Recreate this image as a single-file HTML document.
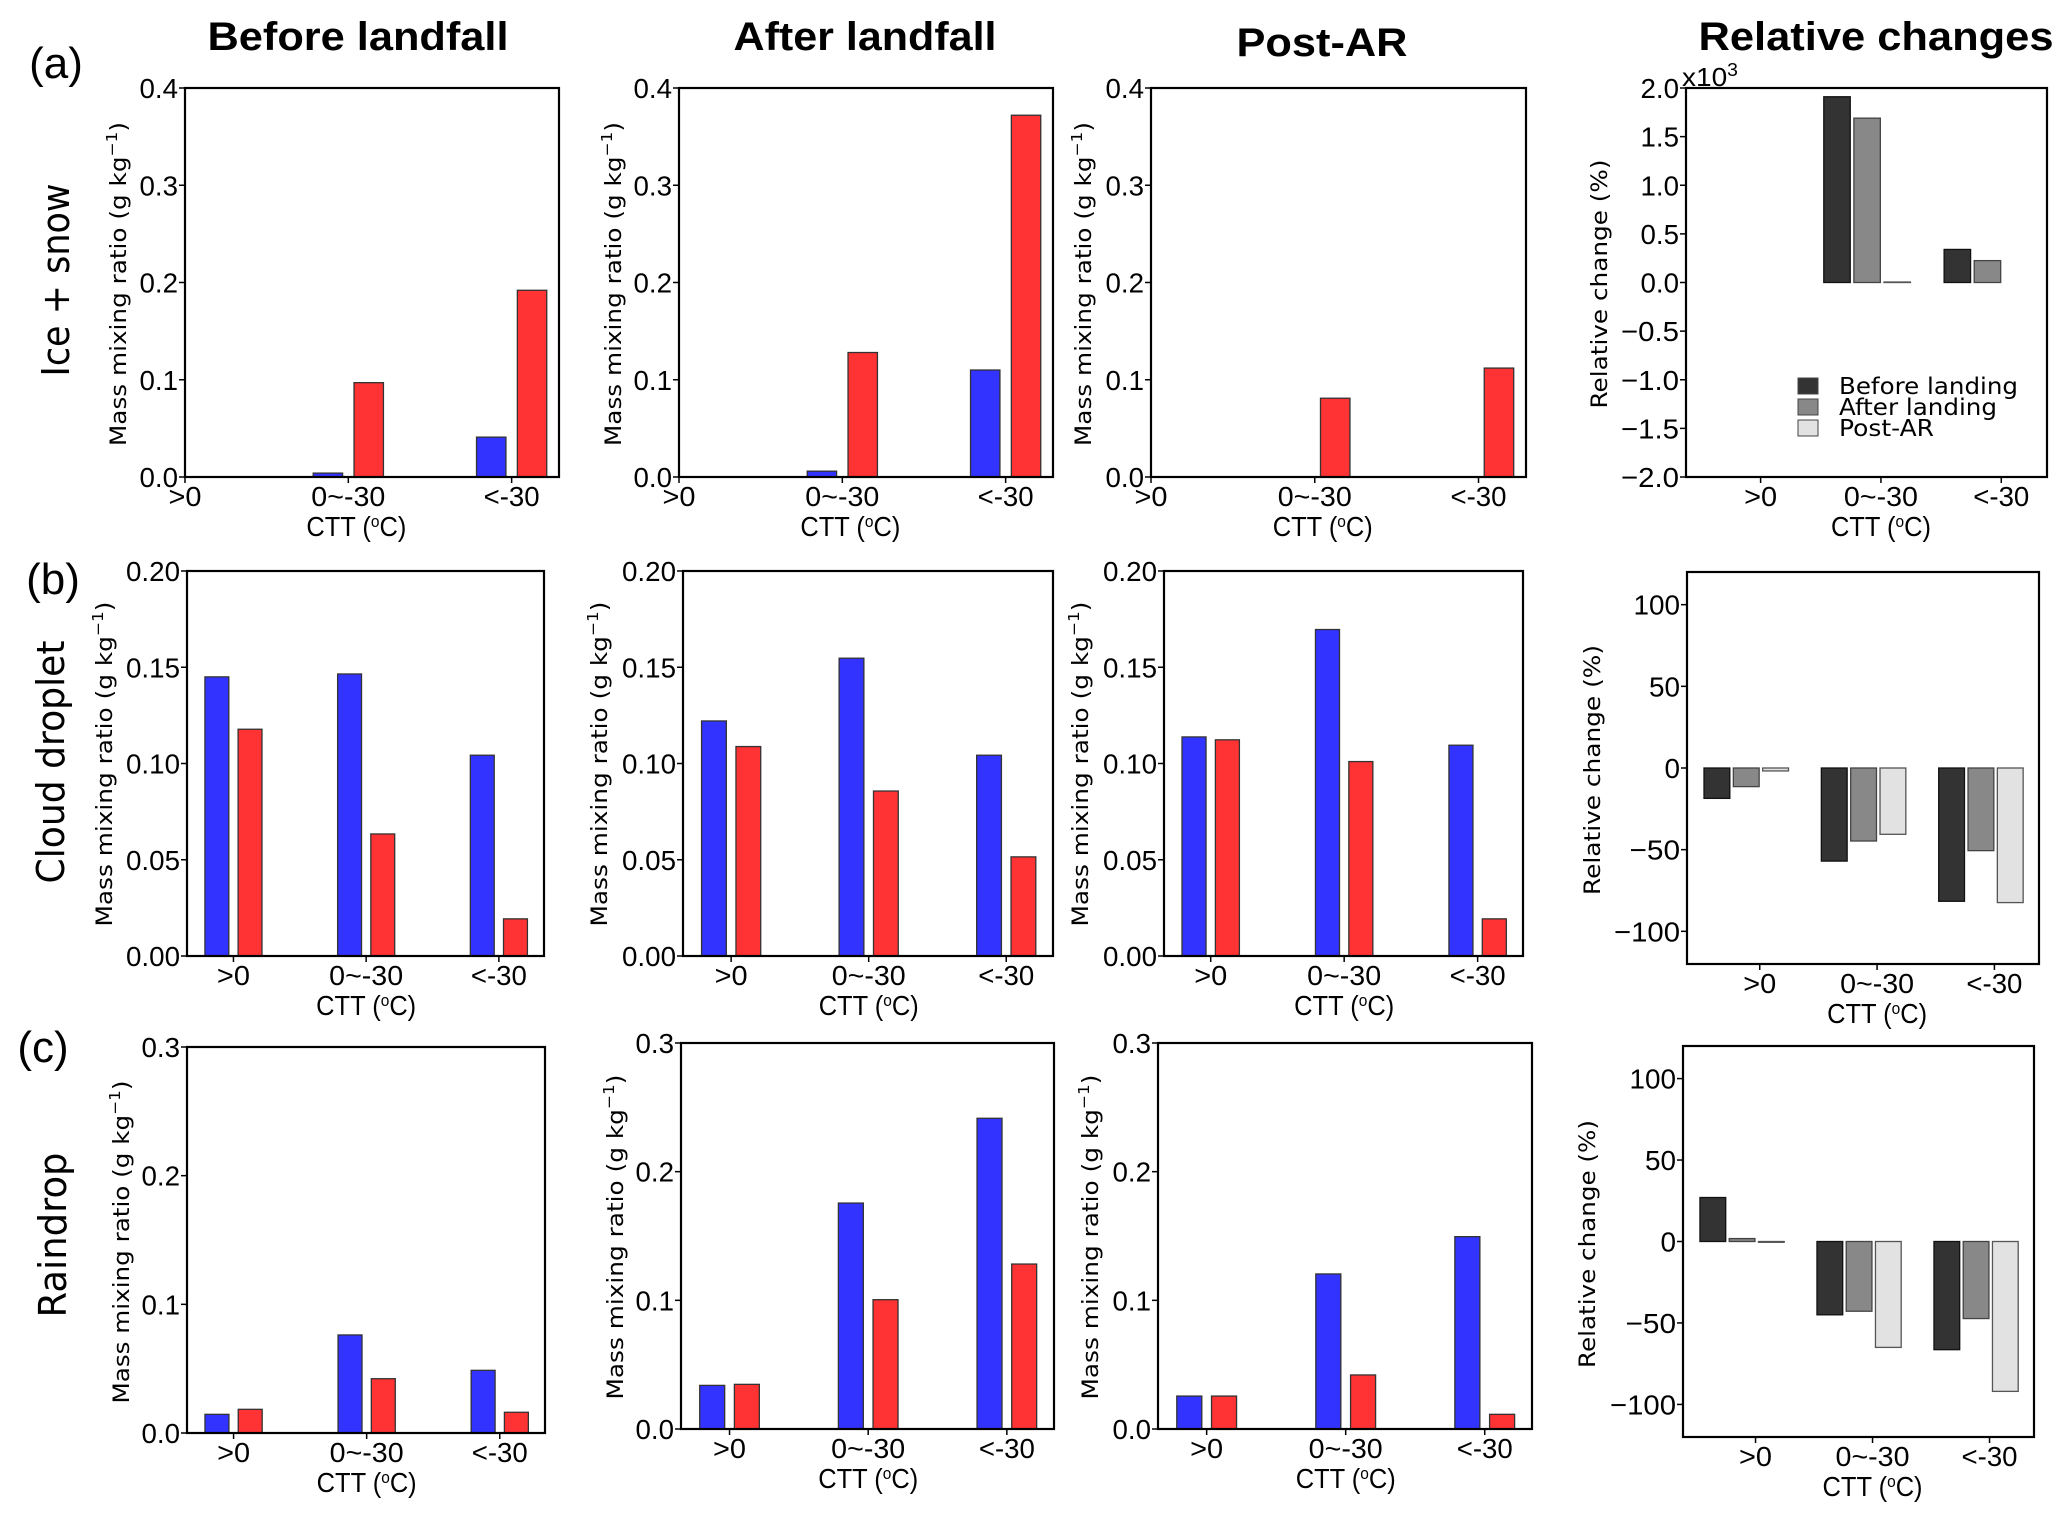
<!DOCTYPE html>
<html><head><meta charset="utf-8"><style>
html,body{margin:0;padding:0;background:#fff;}
svg{display:block;}
</style></head><body>
<svg id="fig" width="2067" height="1520" viewBox="0 0 2067 1520" xmlns="http://www.w3.org/2000/svg"></svg>
<script>
const cats = ['>0', '0~-30', '<-30'];
// (a) Ice + snow
const iceBeforeBlue = [0, 0.004, 0.041];
const iceBeforeRed = [0, 0.097, 0.192];
const iceAfterBlue = [0, 0.006, 0.110];
const iceAfterRed = [0, 0.128, 0.372];
const icePostBlue = [0, 0, 0];
const icePostRed = [0, 0.081, 0.112];
const iceRelBefore = [0, 1.91, 0.34];
const iceRelAfter = [0, 1.69, 0.225];
const iceRelPost = [0, 0.005, 0];
// (b) Cloud droplet
const cdBeforeBlue = [0.145, 0.1465, 0.1043];
const cdBeforeRed = [0.1178, 0.0634, 0.0193];
const cdAfterBlue = [0.1221, 0.1547, 0.1043];
const cdAfterRed = [0.1088, 0.0857, 0.0515];
const cdPostBlue = [0.1138, 0.1696, 0.1095];
const cdPostRed = [0.1123, 0.101, 0.0193];
const cdRelBefore = [-18.6, -57, -81.6];
const cdRelAfter = [-11.4, -44.7, -50.6];
const cdRelPost = [-1.8, -40.6, -82.4];
// (c) Raindrop
const rdBeforeBlue = [0.0145, 0.0762, 0.0487];
const rdBeforeRed = [0.0184, 0.0422, 0.0161];
const rdAfterBlue = [0.0339, 0.1756, 0.2415];
const rdAfterRed = [0.0347, 0.1005, 0.1282];
const rdPostBlue = [0.0256, 0.1205, 0.1495];
const rdPostRed = [0.0256, 0.042, 0.0114];
const rdRelBefore = [27, -45, -66.4];
const rdRelAfter = [1.8, -42.8, -47.3];
const rdRelPost = [-0.5, -65, -92];
// tick labels
const ticksIce = [0, 0.1, 0.2, 0.3, 0.4];
const ticksIceLabels = ['0.0', '0.1', '0.2', '0.3', '0.4'];
const ticksCd = [0, 0.05, 0.1, 0.15, 0.2];
const ticksCdLabels = ['0.00', '0.05', '0.10', '0.15', '0.20'];
const ticksRd = [0, 0.1, 0.2, 0.3];
const ticksRdLabels = ['0.0', '0.1', '0.2', '0.3'];
const ticksRelA = [-2, -1.5, -1, -0.5, 0, 0.5, 1, 1.5, 2];
const ticksRelALabels = ['\u22122.0', '\u22121.5', '\u22121.0', '\u22120.5', '0.0', '0.5', '1.0', '1.5', '2.0'];
const ticksRel = [-100, -50, 0, 50, 100];
const ticksRelLabels = ['\u2212100', '\u221250', '0', '50', '100'];

const NS = 'http://www.w3.org/2000/svg';
const svg = document.getElementById('fig');
function mk(tag, attrs, parent) {
  const e = document.createElementNS(NS, tag);
  for (const k in attrs) e.setAttribute(k, attrs[k]);
  (parent || svg).appendChild(e);
  return e;
}
function txt(x, y, s, size, anchor, family, weight, rot, len) {
  const t = mk('text', {x: x, y: y, 'font-size': size, 'text-anchor': anchor || 'middle',
    'font-family': family || '"Liberation Sans", sans-serif', 'font-weight': weight || 'normal', fill: '#000'});
  if (rot) t.setAttribute('transform', 'rotate(' + rot + ' ' + x + ' ' + y + ')');
  if (len) { t.setAttribute('textLength', len); t.setAttribute('lengthAdjust', 'spacingAndGlyphs'); }
  t.textContent = s;
  return t;
}
const DJ = '"DejaVu Sans", sans-serif';

function panel(cfg) {
  const g = mk('g', {});
  
  
  const L = cfg.L, R = cfg.R, T = cfg.T, B = cfg.B;
  const xs = v => L + (v - cfg.xmin) / (cfg.xmax - cfg.xmin) * (R - L);
  const ys = v => B - (v - cfg.ymin) / (cfg.ymax - cfg.ymin) * (B - T);
  cfg.series.forEach(s => {
    s.vals.forEach((v, i) => {
      if (v === 0) return;
      const x0 = xs(i + s.off - cfg.bw / 2), x1 = xs(i + s.off + cfg.bw / 2);
      const y0 = ys(0), y1 = ys(v);
      const r = mk('rect', {x: x0, y: Math.min(y0, y1), width: x1 - x0, height: Math.max(Math.abs(y1 - y0), 0.5),
        fill: s.color, stroke: s.edge, 'stroke-width': 1.3}, g);
      
      
    });
  });
  const fr = mk('rect', {x: L, y: T, width: R - L, height: B - T, fill: 'none', stroke: '#000', 'stroke-width': 2.2}, g);
  
  
  cfg.yt.forEach((v, i) => {
    const y = ys(v);
    mk('line', {x1: L - 6, x2: L, y1: y, y2: y, stroke: '#000', 'stroke-width': 1.5}, g);
    const lab = cfg.ytl[i];
    const w = lab.length * 15.5 - (lab.indexOf('.') >= 0 ? 8 : 0) + (lab[0] === '\u2212' ? 4 : 0);
    const t = txt(L - 7, y + 10, lab, 28, 'end', null, null, 0, w);
    
    
    g.appendChild(t);
  });
  cats.forEach((c, i) => {
    const x = xs(i);
    mk('line', {x1: x, x2: x, y1: B, y2: B + 6, stroke: '#000', 'stroke-width': 1.5}, g);
    const w = c === '>0' ? 33 : (c === '<-30' ? 56 : 74);
    const t = txt(x, B + 29, c, 28, 'middle', null, null, 0, w);
    
    
    g.appendChild(t);
  });
  const xt = mk('text', {x: (xs(0) + xs(2)) / 2 + cfg.xtOff, y: B + 59, 'font-size': 28, 'text-anchor': 'middle',
    'font-family': '"Liberation Sans", sans-serif', textLength: 100, lengthAdjust: 'spacingAndGlyphs'}, g);
  xt.innerHTML = 'CTT (<tspan baseline-shift="super" font-size="17">o</tspan>C)';
  
  
  const yl = cfg.ylabel;
  const yt = mk('text', {x: yl.x, y: yl.y, 'font-size': 22, 'text-anchor': 'middle', 'font-family': DJ,
    transform: 'rotate(-90 ' + yl.x + ' ' + yl.y + ')', textLength: yl.len, lengthAdjust: 'spacingAndGlyphs'}, g);
  if (cfg.rel) yt.textContent = 'Relative change (%)';
  else yt.innerHTML = 'Mass mixing ratio (g kg<tspan baseline-shift="super" font-size="15">\u22121</tspan>)';
  
  
}

const BLUE = '#3333ff', RED = '#ff3333';
function mmSeries(b, r) {
  return [{key: 'blue', vals: b, off: -0.125, color: BLUE, edge: '#333'},
          {key: 'red', vals: r, off: 0.125, color: RED, edge: '#333'}];
}
function relSeries(a, b, c) {
  return [{key: 'before-landing', vals: a, off: -0.365, color: '#333333', edge: '#111'},
          {key: 'after-landing', vals: b, off: -0.115, color: '#888888', edge: '#444'},
          {key: 'post-ar', vals: c, off: 0.135, color: '#e2e2e2', edge: '#555'}];
}
const xA = [0, 2.29], xBC = [-0.35, 2.34], xR = [-0.62, 2.38];

panel({name: 'ice-before-panel', L: 185, R: 559, T: 88, B: 477, xmin: xA[0], xmax: xA[1], ymin: 0, ymax: 0.4, bw: 0.18,
  series: mmSeries(iceBeforeBlue, iceBeforeRed), yt: ticksIce, ytl: ticksIceLabels, xtOff: 8, ylabel: {x: 126, y: 284, len: 324}});
panel({name: 'ice-after-panel', L: 679, R: 1053, T: 88, B: 477, xmin: xA[0], xmax: xA[1], ymin: 0, ymax: 0.4, bw: 0.18,
  series: mmSeries(iceAfterBlue, iceAfterRed), yt: ticksIce, ytl: ticksIceLabels, xtOff: 8, ylabel: {x: 621, y: 284, len: 324}});
panel({name: 'ice-post-panel', L: 1151, R: 1526, T: 88, B: 477, xmin: xA[0], xmax: xA[1], ymin: 0, ymax: 0.4, bw: 0.18,
  series: mmSeries(icePostBlue, icePostRed), yt: ticksIce, ytl: ticksIceLabels, xtOff: 8, ylabel: {x: 1091, y: 284, len: 324}});
panel({name: 'ice-relative-panel', rel: true, L: 1686, R: 2047, T: 88, B: 477, xmin: xR[0], xmax: xR[1], ymin: -2, ymax: 2, bw: 0.22,
  series: relSeries(iceRelBefore, iceRelAfter, iceRelPost), yt: ticksRelA, ytl: ticksRelALabels, xtOff: 0, ylabel: {x: 1607, y: 284, len: 249}});
panel({name: 'droplet-before-panel', L: 187, R: 544, T: 571, B: 956, xmin: xBC[0], xmax: xBC[1], ymin: 0, ymax: 0.2, bw: 0.18,
  series: mmSeries(cdBeforeBlue, cdBeforeRed), yt: ticksCd, ytl: ticksCdLabels, xtOff: 0, ylabel: {x: 112, y: 764, len: 325}});
panel({name: 'droplet-after-panel', L: 683, R: 1053, T: 571, B: 956, xmin: xBC[0], xmax: xBC[1], ymin: 0, ymax: 0.2, bw: 0.18,
  series: mmSeries(cdAfterBlue, cdAfterRed), yt: ticksCd, ytl: ticksCdLabels, xtOff: 0, ylabel: {x: 607, y: 764, len: 325}});
panel({name: 'droplet-post-panel', L: 1164, R: 1523, T: 571, B: 956, xmin: xBC[0], xmax: xBC[1], ymin: 0, ymax: 0.2, bw: 0.18,
  series: mmSeries(cdPostBlue, cdPostRed), yt: ticksCd, ytl: ticksCdLabels, xtOff: 0, ylabel: {x: 1088, y: 764, len: 325}});
panel({name: 'droplet-relative-panel', rel: true, L: 1687, R: 2039, T: 572, B: 964, xmin: xR[0], xmax: xR[1], ymin: -120, ymax: 120, bw: 0.22,
  series: relSeries(cdRelBefore, cdRelAfter, cdRelPost), yt: ticksRel, ytl: ticksRelLabels, xtOff: 0, ylabel: {x: 1600, y: 770, len: 250}});
panel({name: 'raindrop-before-panel', L: 187, R: 545, T: 1047, B: 1433, xmin: xBC[0], xmax: xBC[1], ymin: 0, ymax: 0.3, bw: 0.18,
  series: mmSeries(rdBeforeBlue, rdBeforeRed), yt: ticksRd, ytl: ticksRdLabels, xtOff: 0, ylabel: {x: 129, y: 1242, len: 323}});
panel({name: 'raindrop-after-panel', L: 681, R: 1054, T: 1043, B: 1429, xmin: xBC[0], xmax: xBC[1], ymin: 0, ymax: 0.3, bw: 0.18,
  series: mmSeries(rdAfterBlue, rdAfterRed), yt: ticksRd, ytl: ticksRdLabels, xtOff: 0, ylabel: {x: 623, y: 1237, len: 325}});
panel({name: 'raindrop-post-panel', L: 1158, R: 1532, T: 1043, B: 1429, xmin: xBC[0], xmax: xBC[1], ymin: 0, ymax: 0.3, bw: 0.18,
  series: mmSeries(rdPostBlue, rdPostRed), yt: ticksRd, ytl: ticksRdLabels, xtOff: 0, ylabel: {x: 1098, y: 1237, len: 325}});
panel({name: 'raindrop-relative-panel', rel: true, L: 1683, R: 2034, T: 1046, B: 1437, xmin: xR[0], xmax: xR[1], ymin: -120, ymax: 120, bw: 0.22,
  series: relSeries(rdRelBefore, rdRelAfter, rdRelPost), yt: ticksRel, ytl: ticksRelLabels, xtOff: 0, ylabel: {x: 1595, y: 1244, len: 248}});

let e;
e = txt(358, 50, 'Before landfall', 40, 'middle', null, 'bold', 0, 301);


e = txt(865, 50, 'After landfall', 40, 'middle', null, 'bold', 0, 263);


e = txt(1322, 56, 'Post-AR', 40, 'middle', null, 'bold', 0, 171);


e = txt(1876, 50, 'Relative changes', 40, 'middle', null, 'bold', 0, 355);



e = txt(56, 78, '(a)', 44, 'middle');


e = txt(53, 594, '(b)', 44, 'middle');


e = txt(43, 1062, '(c)', 44, 'middle');



e = txt(69, 280, 'Ice + snow', 38, 'middle', DJ, null, -90, 193);


e = txt(64, 762, 'Cloud droplet', 38, 'middle', DJ, null, -90, 243);


e = txt(66, 1235, 'Raindrop', 38, 'middle', DJ, null, -90, 165);



const mult = mk('text', {x: 1682, y: 86, 'font-size': 26, 'font-family': '"Liberation Sans", sans-serif', textLength: 56, lengthAdjust: 'spacingAndGlyphs'});
mult.innerHTML = 'x10<tspan baseline-shift="super" font-size="18">3</tspan>';



const legNames = ['Before landing', 'After landing', 'Post-AR'];
const legColors = ['#333333', '#888888', '#e2e2e2'];
const legLens = [179, 158, 95];
const lg = mk('g', {});


legNames.forEach((n, i) => {
  const y = 394 + i * 21;
  const r = mk('rect', {x: 1798, y: y - 16, width: 20, height: 16, fill: legColors[i], stroke: '#444', 'stroke-width': 1}, lg);
  
  
  const t = txt(1839, y, n, 23, 'start', DJ, null, 0, legLens[i]);
  
  
  lg.appendChild(t);
});
</script>
</body></html>
